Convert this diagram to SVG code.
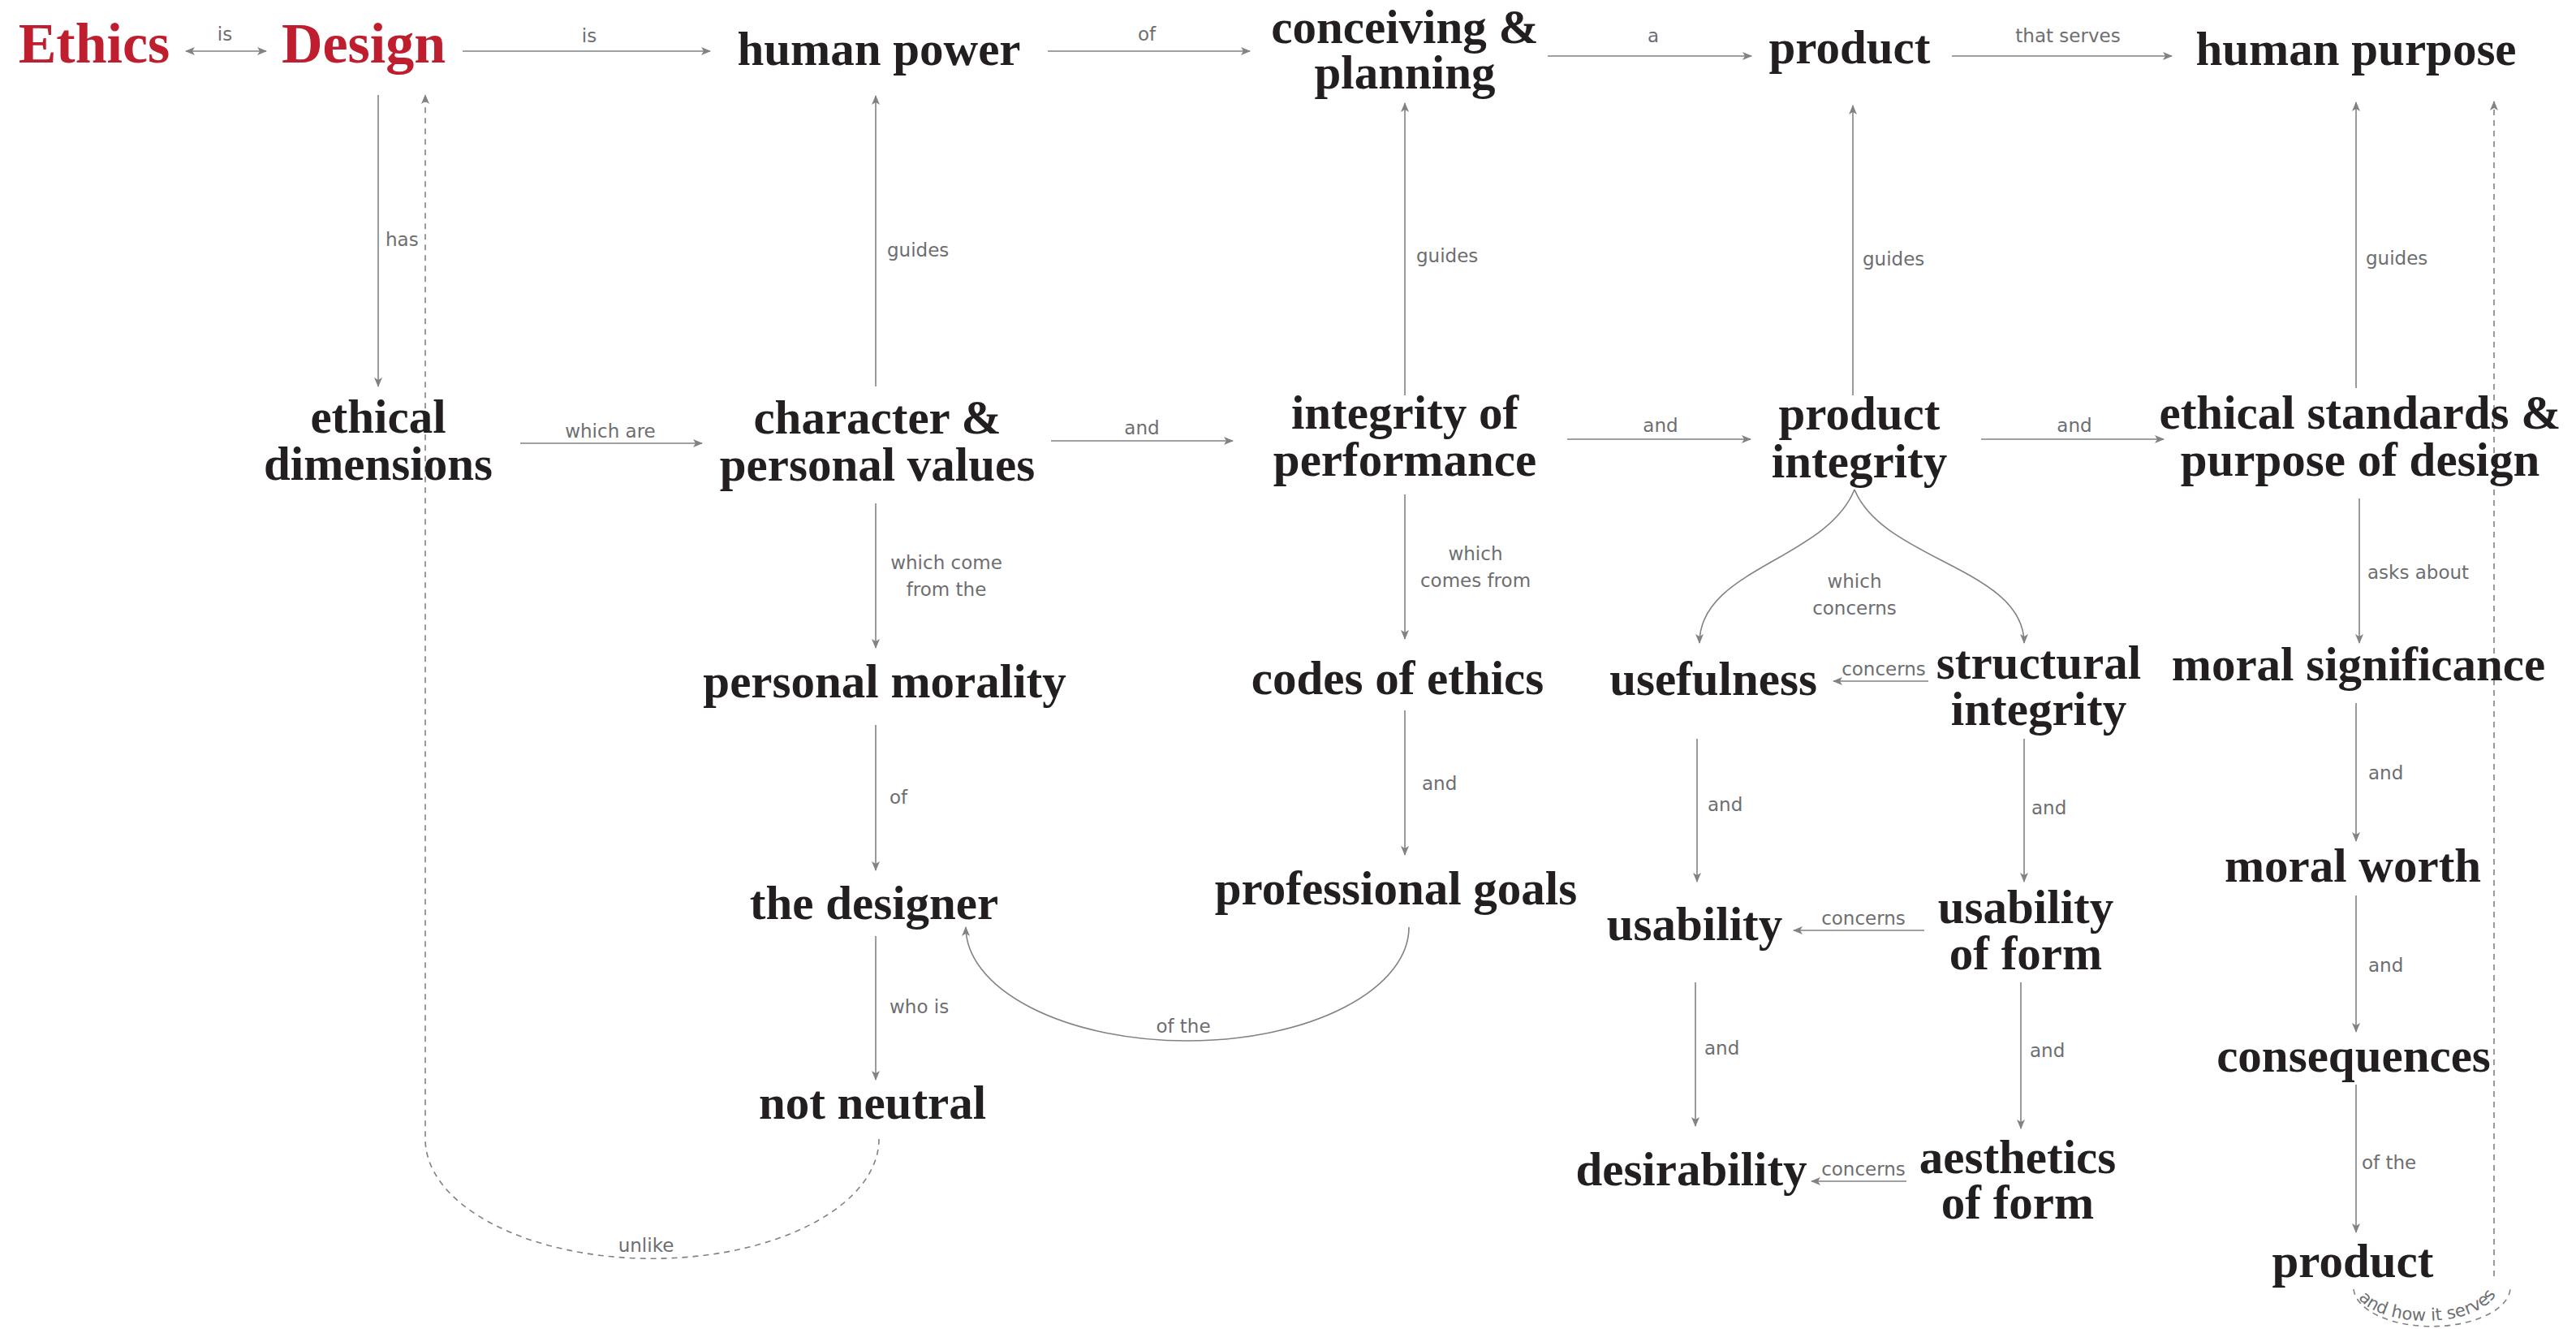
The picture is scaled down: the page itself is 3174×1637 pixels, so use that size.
<svg xmlns="http://www.w3.org/2000/svg" width="3174" height="1637" viewBox="0 0 3174 1637">
  <style>
    .node { font-family: "Liberation Serif", "Times New Roman", serif; font-weight: bold; font-size: 59px; fill: #231f20; }
    .key { font-size: 70px; fill: #be1e2d; }
    .lbl { font-family: "DejaVu Sans", "Liberation Sans", sans-serif; font-size: 23px; fill: #6d6e71; }
    .edge { fill: none; stroke: #808285; stroke-width: 1.6; }
    .dash { stroke-dasharray: 7 6; }
  </style>
  <defs>
    <marker id="arrow" viewBox="0 0 12 10" refX="11" refY="5" markerWidth="12" markerHeight="10" markerUnits="userSpaceOnUse" orient="auto-start-reverse">
      <path d="M0,0 L12,5 L0,10 L3,5 Z" fill="#808285"/>
    </marker>
    <path id="servesPath" d="M2903,1594 A86,40 0 0 0 3075,1578"/>
  </defs>
  <rect width="3174" height="1637" fill="#ffffff"/>

  <!-- connectors and their labels -->
  <g id="connectors">
    <path class="edge" d="M229,63 H328" marker-start="url(#arrow)" marker-end="url(#arrow)"/>
    <path class="edge" d="M570,63 H875" marker-end="url(#arrow)"/>
    <path class="edge" d="M1291,63 H1540" marker-end="url(#arrow)"/>
    <path class="edge" d="M1907,69 H2158" marker-end="url(#arrow)"/>
    <path class="edge" d="M2405,69 H2676" marker-end="url(#arrow)"/>

    <path class="edge" d="M466,117 V476" marker-end="url(#arrow)"/>
    <path class="edge" d="M1079,476 V118" marker-end="url(#arrow)"/>
    <path class="edge" d="M1731,487 V127" marker-end="url(#arrow)"/>
    <path class="edge" d="M2283,487 V130" marker-end="url(#arrow)"/>
    <path class="edge" d="M2903,478 V126" marker-end="url(#arrow)"/>

    <path class="edge" d="M641,546 H865" marker-end="url(#arrow)"/>
    <path class="edge" d="M1295,543 H1519" marker-end="url(#arrow)"/>
    <path class="edge" d="M1931,541 H2157" marker-end="url(#arrow)"/>
    <path class="edge" d="M2441,541 H2666" marker-end="url(#arrow)"/>

    <path class="edge" d="M1079,620 V798" marker-end="url(#arrow)"/>
    <path class="edge" d="M1731,609 V787" marker-end="url(#arrow)"/>
    <path class="edge" d="M1079,893 V1072" marker-end="url(#arrow)"/>
    <path class="edge" d="M1731,875 V1053" marker-end="url(#arrow)"/>
    <path class="edge" d="M1079,1153 V1330" marker-end="url(#arrow)"/>
    <path class="edge" d="M1736,1142 A273,140 0 0 1 1190,1142" marker-end="url(#arrow)"/>

    <path class="edge" d="M2285,603 C2250,690 2094,700 2094,792" marker-end="url(#arrow)"/>
    <path class="edge" d="M2285,603 C2320,690 2494,700 2494,792" marker-end="url(#arrow)"/>
    <path class="edge" d="M2376,839 H2259" marker-end="url(#arrow)"/>
    <path class="edge" d="M2091,910 V1086" marker-end="url(#arrow)"/>
    <path class="edge" d="M2494,910 V1086" marker-end="url(#arrow)"/>
    <path class="edge" d="M2371,1146 H2210" marker-end="url(#arrow)"/>
    <path class="edge" d="M2089,1210 V1387" marker-end="url(#arrow)"/>
    <path class="edge" d="M2490,1210 V1390" marker-end="url(#arrow)"/>
    <path class="edge" d="M2349,1455 H2232" marker-end="url(#arrow)"/>

    <path class="edge" d="M2907,614 V792" marker-end="url(#arrow)"/>
    <path class="edge" d="M2903,866 V1036" marker-end="url(#arrow)"/>
    <path class="edge" d="M2903,1103 V1271" marker-end="url(#arrow)"/>
    <path class="edge" d="M2903,1336 V1518" marker-end="url(#arrow)"/>

    <path class="edge dash" d="M1083,1403 A279,147 0 0 1 524,1403 V117" marker-end="url(#arrow)"/>
    <path class="edge dash" d="M3073,1572 V125" marker-end="url(#arrow)"/>
    <path class="edge dash" d="M2900,1588 A96,48 0 0 0 3093,1583"/>

    <g id="edge-labels" class="lbl">
      <text text-anchor="middle" x="277" y="50">is</text>
      <text text-anchor="middle" x="726" y="52">is</text>
      <text text-anchor="middle" x="1413" y="50">of</text>
      <text text-anchor="middle" x="2037" y="52">a</text>
      <text text-anchor="middle" x="2548" y="52">that serves</text>
      <text x="475" y="303">has</text>
      <text x="1093" y="316">guides</text>
      <text x="1745" y="323">guides</text>
      <text x="2295" y="327">guides</text>
      <text x="2915" y="326">guides</text>
      <text text-anchor="middle" x="752" y="539">which are</text>
      <text text-anchor="middle" x="1407" y="535">and</text>
      <text text-anchor="middle" x="2046" y="532">and</text>
      <text text-anchor="middle" x="2556" y="532">and</text>
      <text text-anchor="middle" x="1166" y="701">which come<tspan x="1166" dy="33">from the</tspan></text>
      <text text-anchor="middle" x="1818" y="690">which<tspan x="1818" dy="33">comes from</tspan></text>
      <text text-anchor="middle" x="2285" y="724">which<tspan x="2285" dy="33">concerns</tspan></text>
      <text x="2917" y="713">asks about</text>
      <text text-anchor="middle" x="2321" y="832">concerns</text>
      <text x="1096" y="990">of</text>
      <text x="1752" y="973">and</text>
      <text x="1096" y="1248">who is</text>
      <text text-anchor="middle" x="1458" y="1272">of the</text>
      <text x="2104" y="999">and</text>
      <text x="2503" y="1003">and</text>
      <text text-anchor="middle" x="2296" y="1139">concerns</text>
      <text x="2100" y="1299">and</text>
      <text x="2501" y="1302">and</text>
      <text text-anchor="middle" x="2296" y="1448">concerns</text>
      <text x="2918" y="960">and</text>
      <text x="2918" y="1197">and</text>
      <text x="2910" y="1440">of the</text>
      <text text-anchor="middle" x="796" y="1542">unlike</text>
      <text font-size="21"><textPath href="#servesPath" startOffset="6">and how it serves</textPath></text>
    </g>
  </g>

  <!-- concept nodes -->
  <g id="n-ethics"><text class="node key" text-anchor="middle" x="116" y="77">Ethics</text></g>
  <g id="n-design"><text class="node key" text-anchor="middle" x="448" y="77">Design</text></g>
  <g id="n-human-power"><text class="node" text-anchor="middle" x="1083" y="80">human power</text></g>
  <g id="n-conceiving"><text class="node" text-anchor="middle" x="1731" y="53">conceiving &amp;<tspan x="1731" dy="56">planning</tspan></text></g>
  <g id="n-product"><text class="node" text-anchor="middle" x="2279" y="78">product</text></g>
  <g id="n-human-purpose"><text class="node" text-anchor="middle" x="2903" y="80">human purpose</text></g>

  <g id="n-ethical-dimensions"><text class="node" text-anchor="middle" x="466" y="533">ethical<tspan x="466" dy="58">dimensions</tspan></text></g>
  <g id="n-character"><text class="node" text-anchor="middle" x="1081" y="534">character &amp;<tspan x="1081" dy="58">personal values</tspan></text></g>
  <g id="n-integrity-performance"><text class="node" text-anchor="middle" x="1731" y="528">integrity of<tspan x="1731" dy="58">performance</tspan></text></g>
  <g id="n-product-integrity"><text class="node" text-anchor="middle" x="2291" y="529">product<tspan x="2291" dy="59">integrity</tspan></text></g>
  <g id="n-ethical-standards"><text class="node" text-anchor="middle" x="2908" y="528">ethical standards &amp;<tspan x="2908" dy="58">purpose of design</tspan></text></g>

  <g id="n-personal-morality"><text class="node" text-anchor="middle" x="1090" y="859">personal morality</text></g>
  <g id="n-codes"><text class="node" text-anchor="middle" x="1722" y="855">codes of ethics</text></g>
  <g id="n-usefulness"><text class="node" text-anchor="middle" x="2111" y="856">usefulness</text></g>
  <g id="n-structural"><text class="node" text-anchor="middle" x="2512" y="836">structural<tspan x="2512" dy="57">integrity</tspan></text></g>
  <g id="n-moral-significance"><text class="node" text-anchor="middle" x="2906" y="838">moral significance</text></g>

  <g id="n-designer"><text class="node" text-anchor="middle" x="1077" y="1132">the designer</text></g>
  <g id="n-professional-goals"><text class="node" text-anchor="middle" x="1720" y="1114">professional goals</text></g>
  <g id="n-usability"><text class="node" text-anchor="middle" x="2088" y="1158">usability</text></g>
  <g id="n-usability-form"><text class="node" text-anchor="middle" x="2496" y="1137">usability<tspan x="2496" dy="57">of form</tspan></text></g>
  <g id="n-moral-worth"><text class="node" text-anchor="middle" x="2899" y="1086">moral worth</text></g>

  <g id="n-not-neutral"><text class="node" text-anchor="middle" x="1075" y="1378">not neutral</text></g>
  <g id="n-desirability"><text class="node" text-anchor="middle" x="2084" y="1460">desirability</text></g>
  <g id="n-aesthetics"><text class="node" text-anchor="middle" x="2486" y="1445">aesthetics<tspan x="2486" dy="56">of form</tspan></text></g>
  <g id="n-consequences"><text class="node" text-anchor="middle" x="2900" y="1320">consequences</text></g>
  <g id="n-product-2"><text class="node" text-anchor="middle" x="2899" y="1573">product</text></g>
</svg>
